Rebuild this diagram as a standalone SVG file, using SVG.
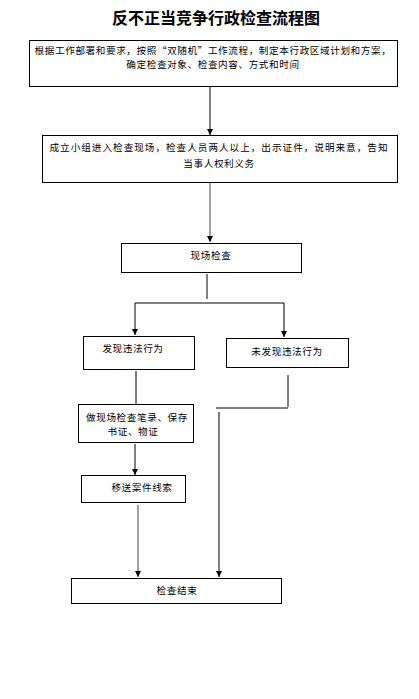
<svg xmlns="http://www.w3.org/2000/svg" width="419" height="699" viewBox="0 0 419 699">
<style>
.box{fill:#fff;stroke:#000;stroke-width:1}
.t{font-family:"Noto Sans CJK SC","Liberation Sans",sans-serif;font-size:9.6px;fill:#000;text-anchor:middle;letter-spacing:0.6px}
.title{font-family:"Noto Sans CJK SC","Liberation Sans",sans-serif;font-size:16px;font-weight:bold;fill:#000;text-anchor:middle}
.c{fill:none;stroke:#000;stroke-width:1}
.g{fill:none;stroke:#808080;stroke-width:1.5}
</style>
<defs>
<marker id="ah" markerWidth="6" markerHeight="6" refX="6" refY="3" orient="auto" markerUnits="userSpaceOnUse">
<path d="M0,0 L6,3 L0,6 Z" fill="#000"/>
</marker>
</defs>
<rect width="419" height="699" fill="#fff"/>
<text class="title" x="216" y="24">反不正当竞争行政检查流程图</text>
<g id="connectors">
<line class="c" x1="210" y1="86" x2="210" y2="135" marker-end="url(#ah)"/>
<line class="g" x1="210" y1="183" x2="210" y2="242" marker-end="url(#ah)"/>
<polyline class="c" points="207,274 207,299"/>
<polyline class="c" points="135,303 284,303 284,337" marker-end="url(#ah)"/>
<line class="c" x1="135" y1="303" x2="135" y2="335" marker-end="url(#ah)"/>
<line class="c" x1="136" y1="371" x2="136" y2="404"/>
<line class="c" x1="135" y1="444" x2="135" y2="475" marker-end="url(#ah)"/>
<polyline class="c" points="288,375 288,407"/>
<line class="c" x1="216" y1="408" x2="288" y2="408"/>
<line class="c" x1="219" y1="412" x2="219" y2="577" marker-end="url(#ah)"/>
<line class="g" x1="138" y1="505" x2="138" y2="577" marker-end="url(#ah)"/>
</g>
<g id="n1">
<rect class="box" x="29.5" y="40.5" width="368" height="46"/>
<text class="t" x="213" y="53.5">根据工作部署和要求，按照“双随机”工作流程，制定本行政区域计划和方案，</text>
<text class="t" x="213" y="67.5">确定检查对象、检查内容、方式和时间</text>
</g>
<g id="n2">
<rect class="box" x="42.5" y="135.5" width="355" height="47"/>
<text class="t" x="219" y="150.5" style="letter-spacing:1px">成立小组进入检查现场，检查人员两人以上，出示证件，说明来意，告知</text>
<text class="t" x="219" y="166.5">当事人权利义务</text>
</g>
<g id="n3">
<rect class="box" x="121.5" y="243.5" width="180" height="29"/>
<text class="t" x="211" y="259">现场检查</text>
</g>
<g id="n4">
<rect class="box" x="83.5" y="336.5" width="111" height="33"/>
<text class="t" x="133" y="352">发现违法行为</text>
</g>
<g id="n5">
<rect class="box" x="226.5" y="338.5" width="122" height="29"/>
<text class="t" x="287" y="355">未发现违法行为</text>
</g>
<g id="n6">
<rect class="box" x="78.5" y="404.5" width="115" height="38"/>
<text class="t" x="137" y="420.5">做现场检查笔录、保存</text>
<text class="t" x="133" y="434.5">书证、物证</text>
</g>
<g id="n7">
<rect class="box" x="81.5" y="475.5" width="104" height="27"/>
<text class="t" x="142" y="491">移送案件线索</text>
</g>
<g id="n8">
<rect class="box" x="71.5" y="578.5" width="210" height="25"/>
<text class="t" x="177" y="594">检查结束</text>
</g>
</svg>
